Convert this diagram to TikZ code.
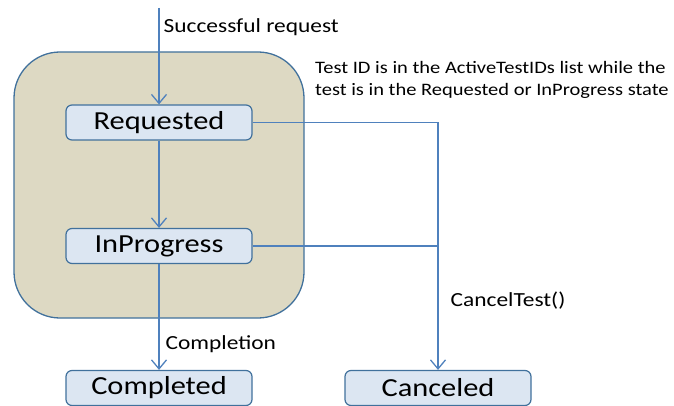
\documentclass[tikz,border=0pt]{standalone}
\usepackage{fontspec}
\setmainfont{Carlito}[FakeStretch=1.17]
\usetikzlibrary{arrows.meta}

\definecolor{wireblue}{HTML}{4F81BD}
\definecolor{boxline}{HTML}{41719C}
\definecolor{boxfill}{HTML}{DCE6F2}
\definecolor{groupfill}{HTML}{DDD9C3}

\tikzset{
  statebox/.style={draw=boxline, fill=boxfill, line width=1.2pt, rounded corners=6pt,
    minimum width=186pt, minimum height=35pt, inner sep=0pt, font=\fontsize{26}{28}\selectfont},
  wire/.style={draw=wireblue, line width=1.3pt},
  trans/.style={wire, -{Straight Barb[length=9pt,width=15pt,line width=1.3pt]}},
  lbl/.style={font=\fontsize{20}{22}\selectfont, anchor=west, inner sep=0pt}
}

\begin{document}
\begin{tikzpicture}[x=1pt,y=-1pt]
\useasboundingbox (0,0) rectangle (674,406);
% group of active states
\draw [boxline, fill=groupfill, line width=1.3pt, rounded corners=46pt] (14,52) rectangle (304,318);
\node [statebox] (req) at (159,122.5) {Requested};
\node [statebox] (prog) at (159,246) {InProgress};
\node [statebox] (done) at (159,388) {Completed};
\node [statebox] (canc) at (438,388) {Canceled};
\coordinate (start) at (159,8);
\coordinate (j1) at (438,122.5);
\coordinate (j2) at (438,246);
\draw [trans] (start) -- (req) node[lbl, pos=0.2, right=4pt] {Successful request};
\draw [trans] (req) -- (prog);
\draw [trans] (prog) -- (done) node[lbl, pos=0.76, right=6pt] {Completion};
\draw [wire] (req) -- (j1);
\draw [wire] (prog) -- (j2);
\draw [trans] (j1) -- (canc.north) node[lbl, pos=0.72, right=12pt] {CancelTest()};
\node [lbl, font=\fontsize{17.5}{22}\selectfont, align=left, anchor=north west] (note) at (315,61)
  {Test ID is in the ActiveTestIDs list while the\\test is in the Requested or InProgress state};
\end{tikzpicture}
\end{document}
